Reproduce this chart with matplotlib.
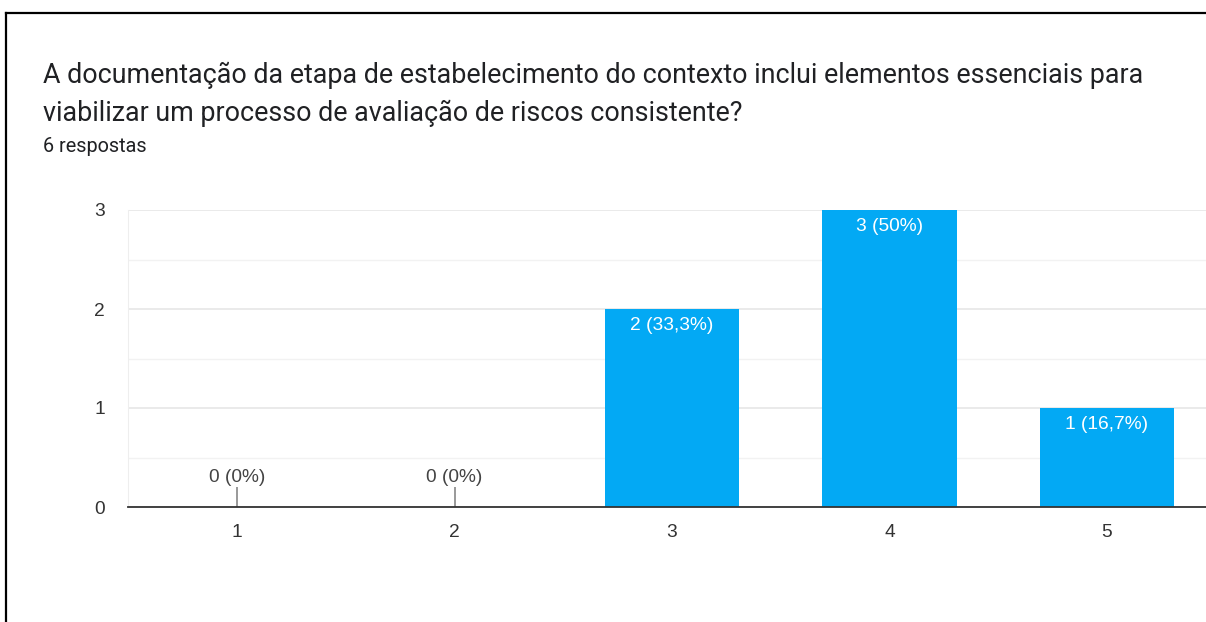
import matplotlib.pyplot as plt
from matplotlib.lines import Line2D

categories = ["1", "2", "3", "4", "5"]
counts = [0, 0, 2, 3, 1]
labels = ["0 (0%)", "0 (0%)", "2 (33,3%)", "3 (50%)", "1 (16,7%)"]

title = ("A documentação da etapa de estabelecimento do contexto inclui elementos essenciais para\n"
         "viabilizar um processo de avaliação de riscos consistente?")
subtitle = "6 respostas"

fig = plt.figure(figsize=(12.06, 6.22), dpi=100)
ax = fig.add_axes([128.25 / 1206, 115 / 622, 1087.5 / 1206, 297 / 622])

xpos = list(range(1, len(categories) + 1))
ax.bar(xpos, counts, width=0.62, color="#03a9f4", zorder=3)

for x, c, lab in zip(xpos, counts, labels):
    if c == 0:
        ax.vlines(x, 0, 0.2, color="#888888", lw=1.2, zorder=3)
        ax.annotate(lab, (x, 0.2), xytext=(0, 1), textcoords="offset points",
                    ha="center", va="bottom", fontsize=13.8, color="#444444",
                    family="Liberation Sans")
    else:
        ax.annotate(lab, (x, c), xytext=(0, -6), textcoords="offset points",
                    ha="center", va="top", fontsize=13.8, color="white",
                    family="Liberation Sans", zorder=4)

ax.set_xlim(0.5, 5.5)
ax.set_ylim(0, 3)
ax.set_xticks(xpos)
ax.set_xticklabels(categories)
ax.set_yticks([0, 1, 2, 3])
ax.set_yticks([0.5, 1.5, 2.5], minor=True)
ax.grid(axis="y", which="major", color="#e6e6e6", lw=1.2, zorder=0)
ax.grid(axis="y", which="minor", color="#f2f2f2", lw=1.0, zorder=0)
ax.tick_params(axis="both", which="both", length=0, labelsize=13.8, labelcolor="#333333")
ax.tick_params(axis="y", pad=17)
ax.tick_params(axis="x", pad=12)
for t in ax.get_xticklabels() + ax.get_yticklabels():
    t.set_family("Liberation Sans")
for s in ["top", "right"]:
    ax.spines[s].set_visible(False)
ax.spines["left"].set_color("#eeeeee")
ax.spines["bottom"].set_color("#333333")
ax.spines["bottom"].set_linewidth(1.3)
ax.spines["bottom"].set_zorder(5)

fig.text(43 / 1206, 1 - 75 / 622, title.split("\n")[0], ha="left", va="center",
         fontsize=19.4, color="#202124", family="Roboto")
fig.text(43 / 1206, 1 - 113 / 622, title.split("\n")[1], ha="left", va="center",
         fontsize=19.4, color="#202124", family="Roboto")
fig.text(43 / 1206, 1 - 147 / 622, subtitle, ha="left", va="center", fontsize=14.3,
         color="#202124", family="Roboto")

# frame around the screenshot
fig.add_artist(Line2D([6 / 1206, 6 / 1206], [0, 1 - 13 / 622], color="black", lw=1.6))
fig.add_artist(Line2D([6 / 1206, 1], [1 - 13 / 622, 1 - 13 / 622], color="black", lw=1.6))

fig.savefig("out.png", dpi=100)
